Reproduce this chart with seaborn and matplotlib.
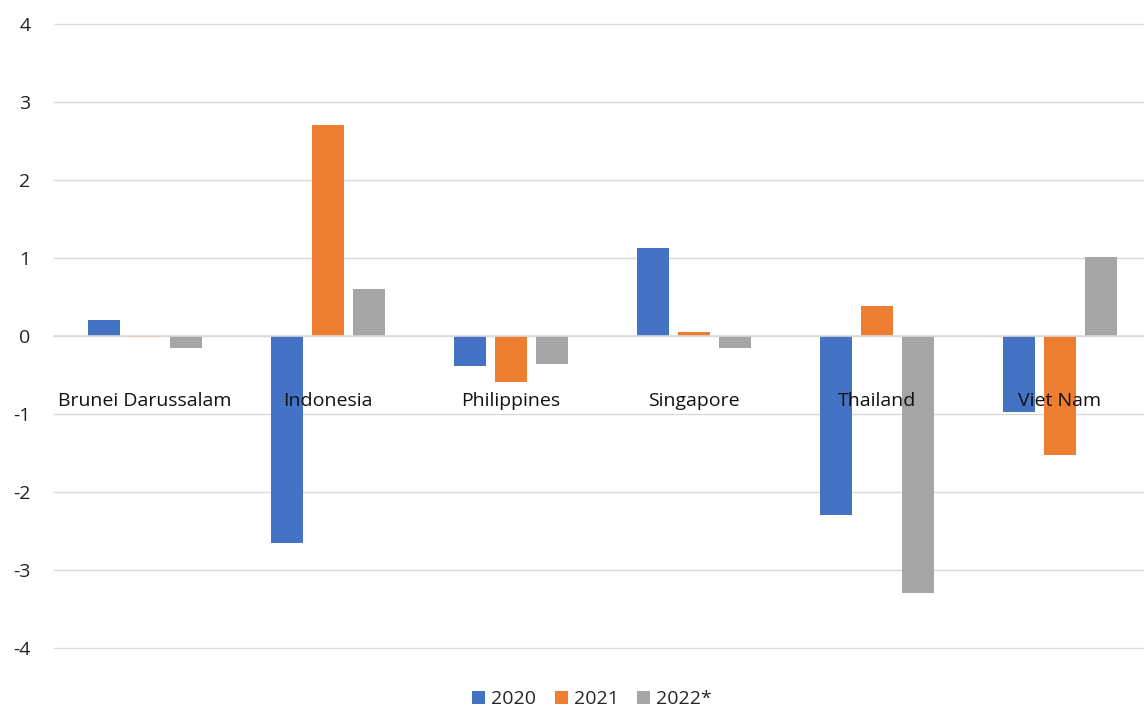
import matplotlib
matplotlib.use("Agg")
import matplotlib.pyplot as plt
import seaborn as sns
import pandas as pd

countries = ["Brunei Darussalam", "Indonesia", "Philippines", "Singapore", "Thailand", "Viet Nam"]
years = ["2020", "2021", "2022*"]
v2020 = [0.20, -2.66, -0.385, 1.13, -2.29, -0.97]
v2021 = [-0.01, 2.71, -0.59, 0.05, 0.38, -1.52]
v2022 = [-0.16, 0.60, -0.355, -0.16, -3.30, 1.01]
colors = ["#4472C4", "#ED7D31", "#A5A5A5"]
yticks = [-4, -3, -2, -1, 0, 1, 2, 3, 4]

rows = []
for yr, vals in zip(years, [v2020, v2021, v2022]):
    for c, v in zip(countries, vals):
        rows.append({"country": c, "year": yr, "value": v})
df = pd.DataFrame(rows)

sns.set_theme(style="white")
plt.rcParams["font.family"] = ["Open Sans", "DejaVu Sans"]
plt.rcParams["axes.unicode_minus"] = False

fig = plt.figure(figsize=(11.44, 7.09), dpi=100)
ax = fig.add_axes([53.5 / 1144, 1 - 649 / 709, 1098 / 1144, (649 - 23) / 709])

sns.barplot(data=df, x="country", y="value", hue="year", order=countries,
            hue_order=years, palette=colors, width=0.664, gap=0.21,
            saturation=1, linewidth=0, errorbar=None, ax=ax)

ax.set_ylim(-4.013, 4.013)
ax.set_xlim(-0.5, 5.5)
ax.set_yticks(yticks)
ax.set_yticklabels([str(t) for t in yticks])
ax.set_xlabel("")
ax.set_ylabel("")

ax.yaxis.grid(True, color="#D9D9D9", linewidth=1.0)
ax.xaxis.grid(False)
ax.set_axisbelow(True)
ax.xaxis.set_zorder(5)

for s in ["top", "right", "left"]:
    ax.spines[s].set_visible(False)
ax.spines["bottom"].set_position(("data", 0))
ax.spines["bottom"].set_color("#D9D9D9")
ax.spines["bottom"].set_linewidth(1.2)
ax.spines["bottom"].set_zorder(3)

ax.tick_params(axis="y", length=0, pad=16.5, labelsize=14, labelcolor="#222222")
ax.tick_params(axis="x", length=0, pad=40, labelsize=14, labelcolor="#111111")

handles, labels = ax.get_legend_handles_labels()
if ax.get_legend() is not None:
    ax.get_legend().remove()
fig.legend(handles, labels, loc="center", bbox_to_anchor=(592 / 1144, 1 - 699 / 709),
           ncol=3, frameon=False, fontsize=14, handlelength=0.67, handleheight=0.67,
           handletextpad=0.3, columnspacing=0.97)

fig.savefig("out.png", dpi=100, facecolor="white")
